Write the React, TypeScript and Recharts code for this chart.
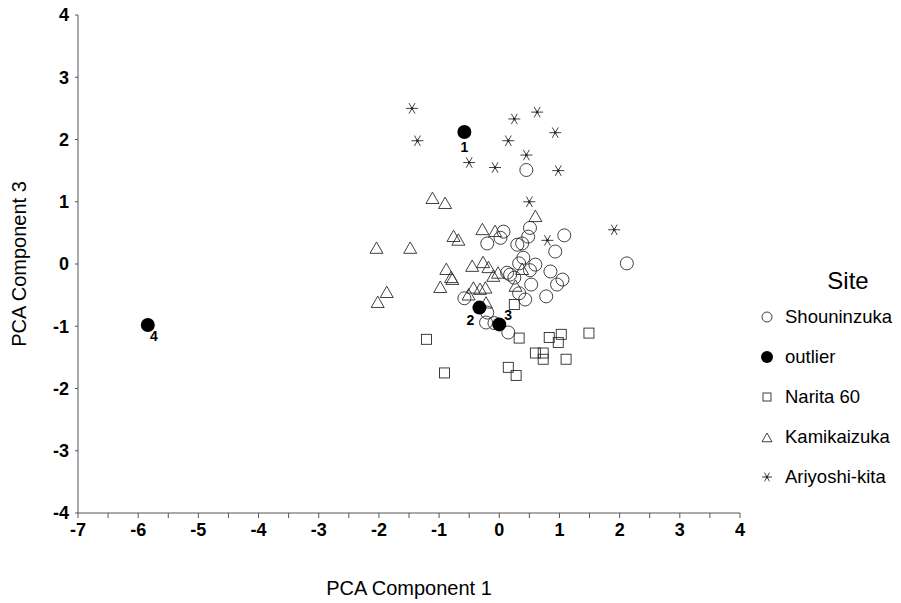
import { ScatterChart, Scatter, XAxis, YAxis } from "recharts";

// [PCA Component 1, PCA Component 3]
const shouninzuka: [number, number][] = [
  [0.45, 1.51], [0.51, 0.58], [0.07, 0.52], [0.02, 0.42], [-0.2, 0.33],
  [0.48, 0.44], [0.3, 0.31], [0.38, 0.33], [1.08, 0.46], [0.93, 0.2],
  [0.4, 0.1], [0.33, 0.01], [0.6, -0.01], [0.51, -0.1], [0.18, -0.17],
  [0.13, -0.14], [0.25, -0.22], [0.85, -0.12], [1.05, -0.25], [0.96, -0.33],
  [0.53, -0.33], [0.33, -0.47], [0.43, -0.57], [0.78, -0.52], [-0.58, -0.55],
  [-0.2, -0.78], [-0.22, -0.94], [-0.08, -0.95], [0.15, -1.1], [2.12, 0.01],
];

const outliers: [number, number][] = [
  [-0.58, 2.12], [-0.33, -0.7], [0.0, -0.97], [-5.84, -0.98],
];
const outlierLabels = ["1", "2", "3", "4"];
// where each number sits relative to its dot
const outlierLabelSide = ["below", "belowLeft", "aboveRight", "belowRight"];

const narita60: [number, number][] = [
  [0.25, -0.65], [-1.21, -1.21], [0.33, -1.19], [0.83, -1.18], [1.03, -1.13],
  [0.98, -1.26], [1.49, -1.11], [0.6, -1.43], [0.73, -1.43], [0.73, -1.53],
  [1.11, -1.53], [-0.91, -1.75], [0.15, -1.66], [0.28, -1.79],
];

const kamikaizuka: [number, number][] = [
  [-1.11, 1.05], [-0.9, 0.97], [-2.04, 0.25], [-1.48, 0.25], [-0.76, 0.44],
  [-0.68, 0.38], [-0.28, 0.55], [-0.07, 0.52], [0.6, 0.76], [-0.88, -0.09],
  [-0.8, -0.22], [-0.78, -0.25], [-0.98, -0.38], [-1.87, -0.46], [-2.02, -0.62],
  [-0.45, -0.04], [-0.27, 0.02], [-0.18, -0.06], [-0.1, -0.2], [-0.02, -0.15],
  [-0.43, -0.39], [-0.32, -0.41], [-0.23, -0.39], [-0.51, -0.5], [-0.22, -0.63],
  [0.38, -0.09], [0.27, -0.36],
];

const ariyoshiKita: [number, number][] = [
  [-1.45, 2.5], [-1.36, 1.98], [-0.5, 1.63], [-0.07, 1.55], [0.25, 2.33],
  [0.63, 2.44], [0.15, 1.98], [0.45, 1.75], [0.93, 2.11], [0.98, 1.5],
  [0.5, 1.0], [0.8, 0.38], [1.91, 0.55],
];

const xTicks = [-7, -6.5, -6, -5.5, -5, -4.5, -4, -3.5, -3, -2.5, -2, -1.5, -1, -0.5, 0, 0.5, 1, 1.5, 2, 2.5, 3, 3.5, 4];
const yTicks = [-4, -3, -2, -1, 0, 1, 2, 3, 4];

const siteNames = ["Shouninzuka", "outlier", "Narita 60", "Kamikaizuka", "Ariyoshi-kita"];

const toPoints = (arr: [number, number][]) => arr.map(([x, y], i) => ({ x, y, i }));

const INK = "#2b2b2b";
const FONT = "'Liberation Sans', Arial, Helvetica, sans-serif";

function OpenCircle({ cx, cy, r = 6.5 }: any) {
  return <circle cx={cx} cy={cy} r={r} fill="none" stroke={INK} strokeWidth={0.9} />;
}

function FilledCircle({ cx, cy, r = 7 }: any) {
  return <circle cx={cx} cy={cy} r={r} fill="#000" />;
}

function Square({ cx, cy, s = 10 }: any) {
  return (
    <rect x={cx - s / 2} y={cy - s / 2} width={s} height={s} fill="none" stroke={INK} strokeWidth={0.9} />
  );
}

function Triangle({ cx, cy, s = 6.5 }: any) {
  const pts = `${cx},${cy - s} ${cx - s},${cy + s * 0.75} ${cx + s},${cy + s * 0.75}`;
  return <polygon points={pts} fill="none" stroke={INK} strokeWidth={0.9} />;
}

function Asterisk({ cx, cy, s = 6 }: any) {
  const dx = s * 0.5;
  const dy = s * 0.87;
  return (
    <g stroke={INK} strokeWidth={0.9}>
      <line x1={cx - s} y1={cy} x2={cx + s} y2={cy} />
      <line x1={cx - dx} y1={cy - dy} x2={cx + dx} y2={cy + dy} />
      <line x1={cx + dx} y1={cy - dy} x2={cx - dx} y2={cy + dy} />
      <circle cx={cx} cy={cy} r={1} fill={INK} />
    </g>
  );
}

function OutlierShape(props: any) {
  const { cx, cy, payload } = props;
  const side = outlierLabelSide[payload.i];
  let lx = cx;
  let ly = cy + 20;
  if (side === "belowLeft") {
    lx = cx - 9;
    ly = cy + 17;
  } else if (side === "aboveRight") {
    lx = cx + 9;
    ly = cy - 4;
  } else if (side === "belowRight") {
    lx = cx + 6;
    ly = cy + 16;
  }
  return (
    <g>
      <FilledCircle cx={cx} cy={cy} />
      <text
        x={lx}
        y={ly}
        textAnchor="middle"
        fontFamily="'Liberation Sans Narrow', 'Liberation Sans', Arial, sans-serif"
        fontWeight="bold"
        fontSize={14}
        fill="#000"
      >
        {outlierLabels[payload.i]}
      </text>
    </g>
  );
}

const legendIcons = [
  <OpenCircle cx={9} cy={9} r={5} />,
  <FilledCircle cx={9} cy={9} r={6} />,
  <Square cx={9} cy={9} s={8} />,
  <Triangle cx={9} cy={10} s={5} />,
  <Asterisk cx={9} cy={9} s={5} />,
];

export default function App() {
  const tickStyle = { fontSize: 18, fontWeight: "bold" as const, fill: "#000", fontFamily: FONT };
  return (
    <div style={{ position: "relative", width: 885, height: 595, fontFamily: FONT }}>
      <ScatterChart width={885} height={595} margin={{ top: 7, right: 153, bottom: 0, left: 0 }}>
        <XAxis
          type="number"
          dataKey="x"
          domain={[-7, 4]}
          ticks={xTicks}
          interval={0}
          allowDataOverflow
          height={90}
          tick={tickStyle}
          tickFormatter={(v: number) => (Number.isInteger(v) ? String(v) : "")}
          tickSize={5}
          tickMargin={5}
          axisLine={{ stroke: "#555", strokeWidth: 1 }}
          tickLine={{ stroke: "#555", strokeWidth: 1 }}
          label={{
            value: "PCA Component 1",
            position: "insideBottom",
            offset: 8,
            style: { fontSize: 20, fill: "#000", fontFamily: FONT },
          }}
        />
        <YAxis
          type="number"
          dataKey="y"
          domain={[-4, 4]}
          ticks={yTicks}
          interval={0}
          allowDataOverflow
          width={70}
          tick={tickStyle}
          tickSize={3}
          tickMargin={6}
          axisLine={{ stroke: "#555", strokeWidth: 1 }}
          tickLine={{ stroke: "#555", strokeWidth: 1 }}
          label={{
            value: "PCA Component 3",
            angle: -90,
            position: "insideLeft",
            offset: 11,
            style: { fontSize: 20, fill: "#000", fontFamily: FONT, textAnchor: "middle" },
          }}
        />
        <Scatter name="Shouninzuka" data={toPoints(shouninzuka)} shape={OpenCircle} isAnimationActive={false} />
        <Scatter name="Narita 60" data={toPoints(narita60)} shape={Square} isAnimationActive={false} />
        <Scatter name="Kamikaizuka" data={toPoints(kamikaizuka)} shape={Triangle} isAnimationActive={false} />
        <Scatter name="Ariyoshi-kita" data={toPoints(ariyoshiKita)} shape={Asterisk} isAnimationActive={false} />
        <Scatter name="outlier" data={toPoints(outliers)} shape={OutlierShape} isAnimationActive={false} />
      </ScatterChart>
      <div style={{ position: "absolute", left: 750, top: 260, width: 135 }}>
        <div style={{ fontSize: 24, textAlign: "center", marginLeft: 50, width: 80, lineHeight: "26px", marginBottom: 11 }}>
          Site
        </div>
        {siteNames.map((name, i) => (
          <div key={name} style={{ display: "flex", alignItems: "center", height: 40, marginTop: i === 0 ? -8 : 0, whiteSpace: "nowrap" }}>
            <svg width={18} height={18} style={{ marginRight: 9, flexShrink: 0 }}>
              {legendIcons[i]}
            </svg>
            <span style={{ fontSize: 18.5, color: "#000" }}>{name}</span>
          </div>
        ))}
      </div>
    </div>
  );
}
